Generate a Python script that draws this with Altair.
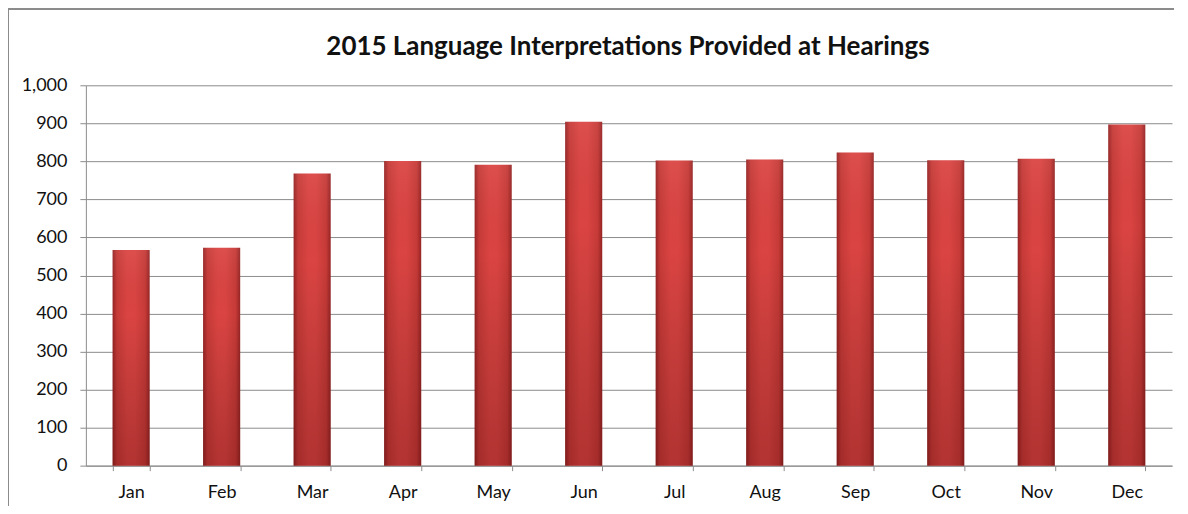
import altair as alt
import pandas as pd

months = ["Jan", "Feb", "Mar", "Apr", "May", "Jun", "Jul", "Aug", "Sep", "Oct", "Nov", "Dec"]
values = [567, 573, 768, 801, 791, 904, 802, 805, 823, 803, 807, 897]
y_ticks = [0, 100, 200, 300, 400, 500, 600, 700, 800, 900, 1000]
title_text = ["2015 Language Interpretations Provided at Hearings"]

df = pd.DataFrame({"Month": months, "Count": values})
df_title = pd.DataFrame({"t": title_text})

W, H = 1088, 381
FONT = "Lato"
GRID = "#8c8c8c"

x_enc = alt.X(
    "Month:N",
    sort=None,
    title=None,
    scale=alt.Scale(paddingInner=0.59, paddingOuter=0.295),
    axis=alt.Axis(
        tickBand="extent",
        labelAngle=0,
        labelFontSize=18,
        labelFont=FONT,
        labelColor="#111111",
        labelPadding=13,
        tickSize=5,
        tickColor=GRID,
        domainColor=GRID,
        grid=False,
    ),
)
y_enc = alt.Y(
    "Count:Q",
    title=None,
    scale=alt.Scale(domain=[0, 1000], nice=False),
    axis=alt.Axis(
        values=y_ticks,
        format=",d",
        labelFontSize=18,
        labelFont=FONT,
        labelColor="#111111",
        labelPadding=13,
        tickSize=6,
        tickColor=GRID,
        domainColor=GRID,
        gridColor=GRID,
        gridWidth=1,
    ),
)

h_grad = alt.Gradient(
    gradient="linear",
    x1=0, x2=1, y1=0, y2=0,
    stops=[
        alt.GradientStop(color="#962424", offset=0),
        alt.GradientStop(color="#c63a37", offset=0.12),
        alt.GradientStop(color="#da4442", offset=0.4),
        alt.GradientStop(color="#da4442", offset=0.6),
        alt.GradientStop(color="#c63a37", offset=0.88),
        alt.GradientStop(color="#962424", offset=1),
    ],
)
v_grad = alt.Gradient(
    gradient="linear",
    x1=0, x2=0, y1=0, y2=1,
    stops=[
        alt.GradientStop(color="rgba(255,255,255,0.06)", offset=0),
        alt.GradientStop(color="rgba(0,0,0,0.0)", offset=0.3),
        alt.GradientStop(color="rgba(60,0,0,0.25)", offset=1),
    ],
)

bars = alt.Chart(df).mark_bar(color=h_grad).encode(x=x_enc, y=y_enc)
shade = alt.Chart(df).mark_bar(color=v_grad).encode(x=x_enc, y=y_enc)

border_left = alt.Chart(df).mark_rule(color="#8c8c8c", strokeWidth=1).encode(
    x=alt.value(-77.5), y=alt.value(-76.5), y2=alt.value(H + 40)
)
border_top = alt.Chart(df).mark_rule(color="#8c8c8c", strokeWidth=1).encode(
    x=alt.value(-77.5), x2=alt.value(W + 2), y=alt.value(-76.5)
)
title = alt.Chart(df_title).mark_text(
    font=FONT, fontSize=26, fontWeight="bold", color="#111111",
    align="center", baseline="middle",
).encode(text="t:N", x=alt.value(W / 2 - 1), y=alt.value(-38))

chart = alt.layer(bars, shade, border_left, border_top, title).properties(
    width=W,
    height=H,
    autosize=alt.AutoSizeParams(type="none"),
    padding={"left": 78, "top": 77, "right": 8, "bottom": 40},
).configure_view(stroke=None)

chart.save("out.html", embed_options={"renderer": "svg", "actions": False})
